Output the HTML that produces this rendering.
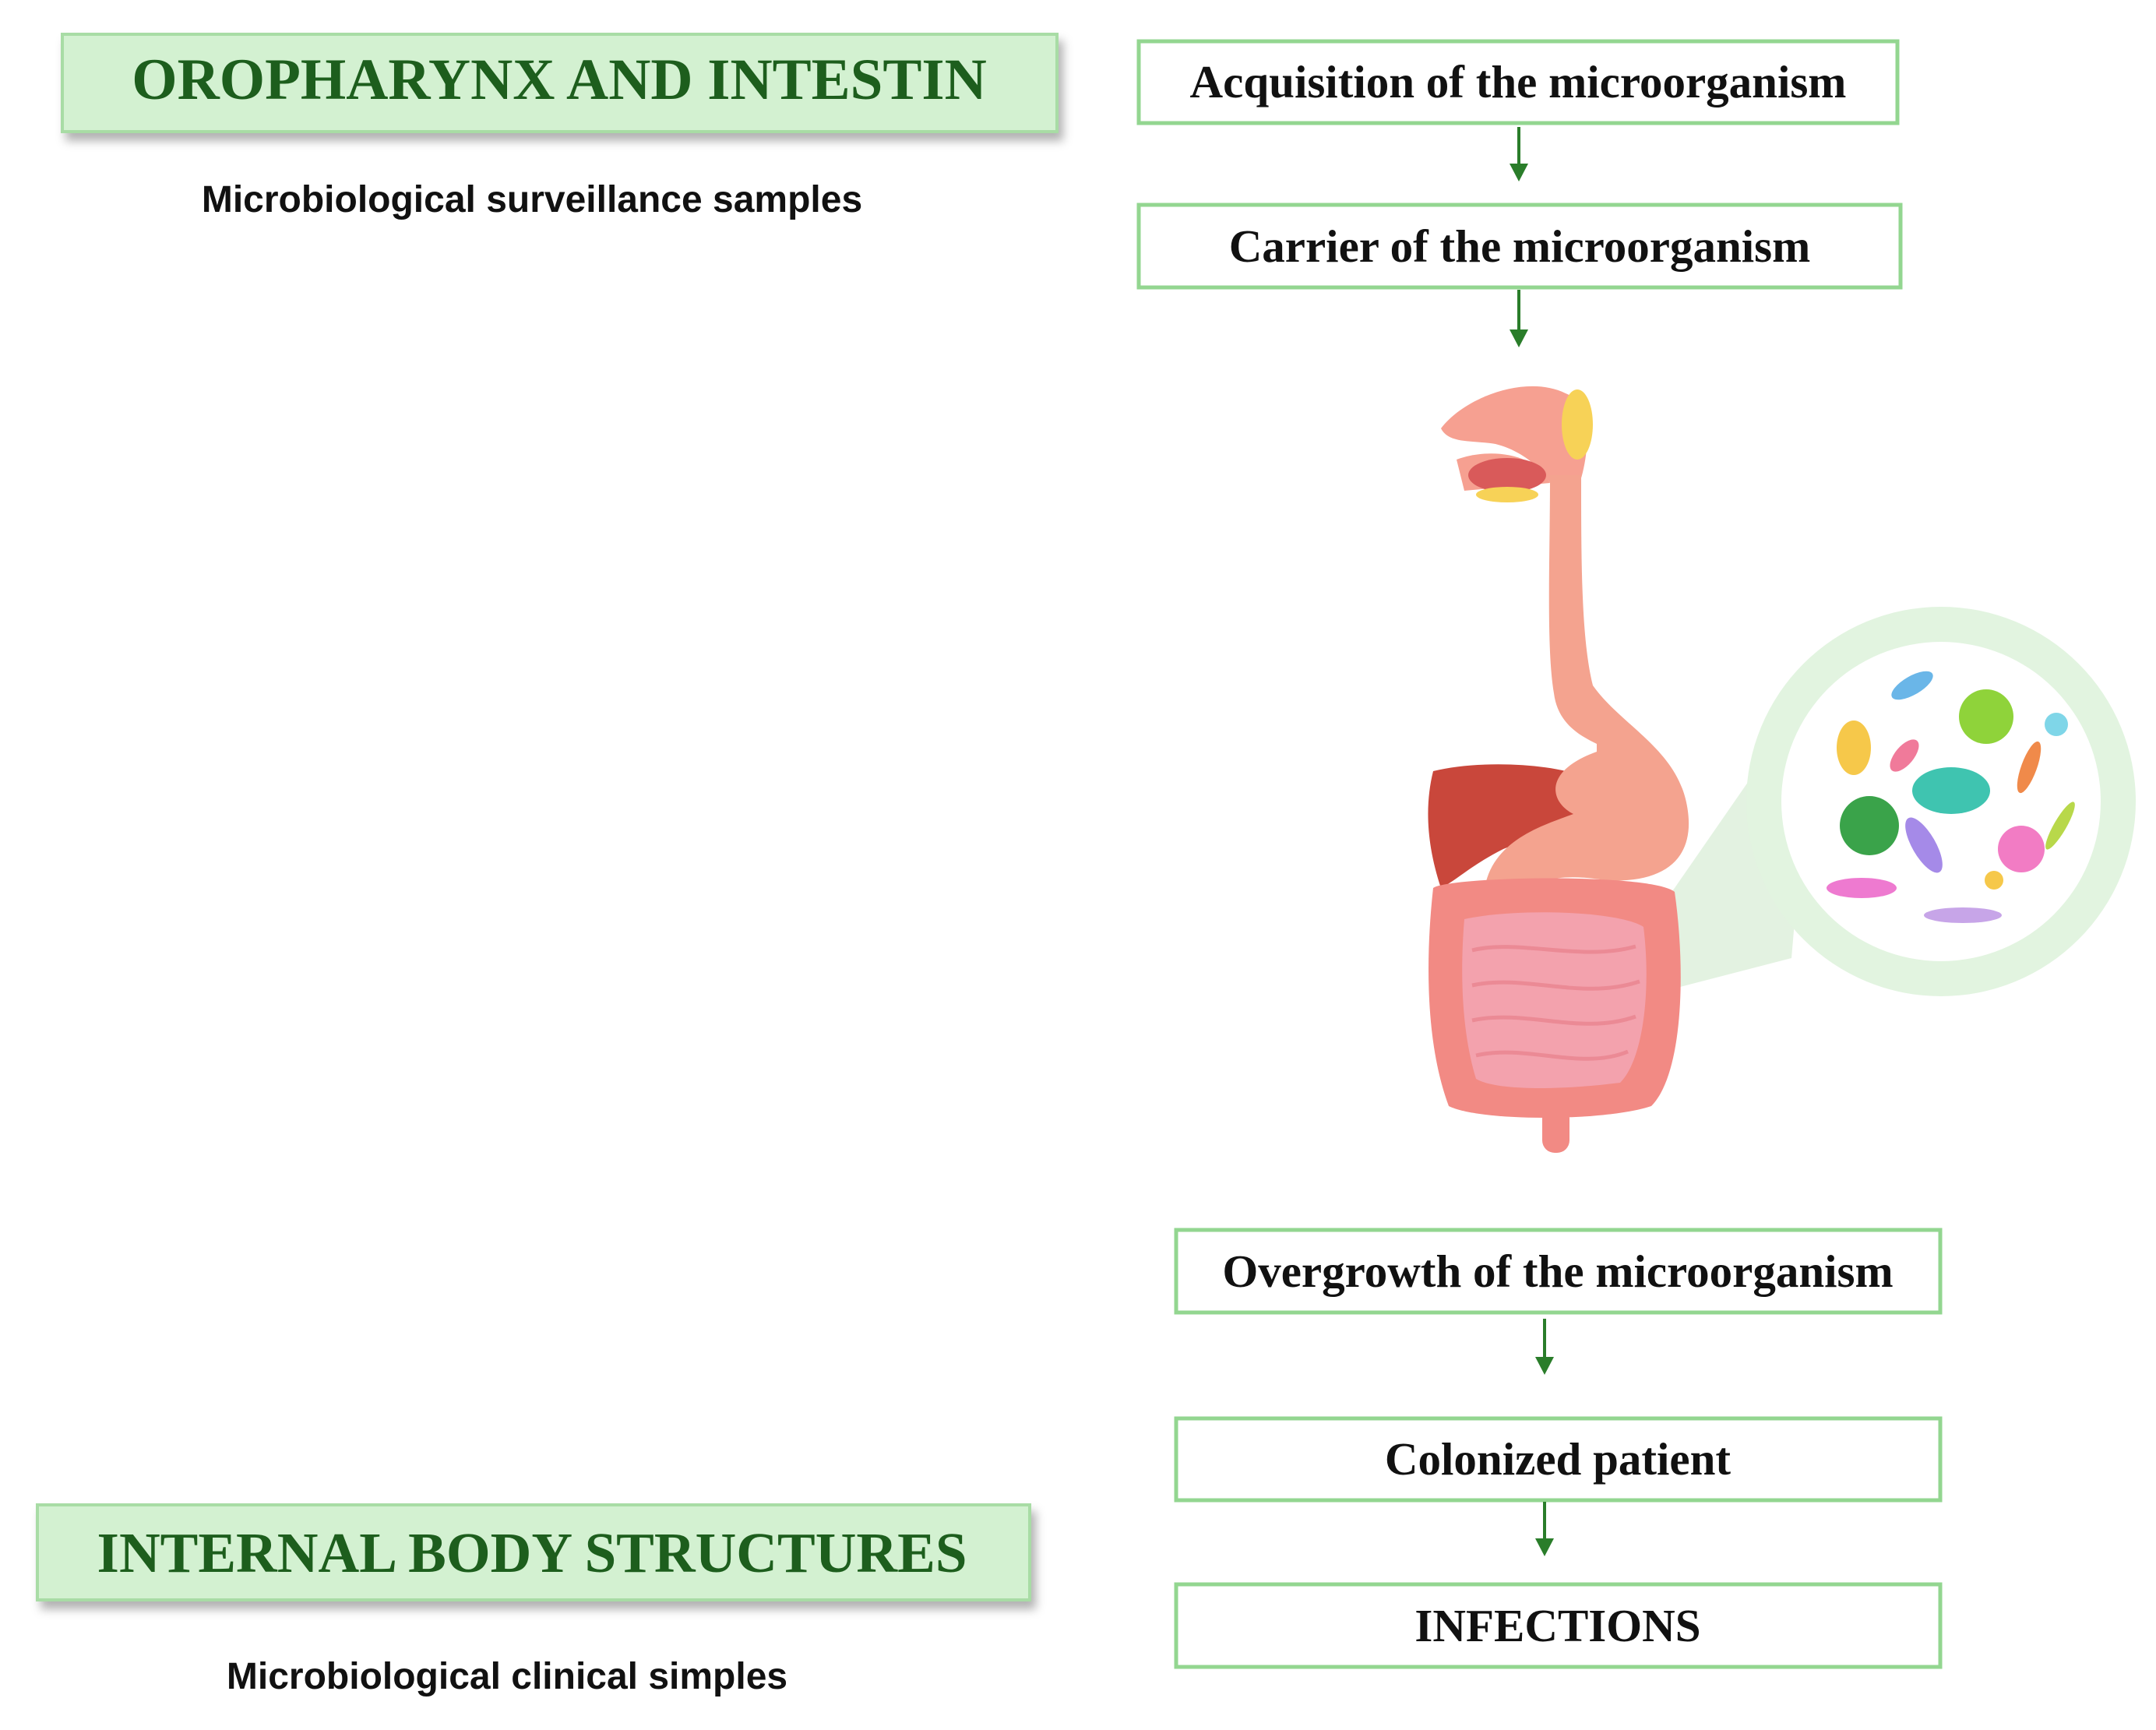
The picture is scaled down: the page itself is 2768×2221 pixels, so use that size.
<!DOCTYPE html>
<html><head><meta charset="utf-8"><style>
html,body{margin:0;padding:0;background:#fff;}
body{width:2768px;height:2216px;overflow:hidden;position:relative;}
.t{font-family:"Liberation Serif",serif;font-weight:bold;}
.s{font-family:"Liberation Sans",sans-serif;font-weight:bold;}
</style></head><body>
<svg width="2768" height="2216" viewBox="0 0 2768 2216" xmlns="http://www.w3.org/2000/svg">
<defs>
<filter id="sh" x="-5%" y="-20%" width="110%" height="150%"><feDropShadow dx="6" dy="10" stdDeviation="6" flood-color="#000" flood-opacity="0.3"/></filter>
</defs>
<rect x="80" y="44" width="1277" height="125" fill="#d3f1d1" stroke="#a8dca5" stroke-width="4" filter="url(#sh)"/>
<text x="718" y="127" class="t" font-size="75" fill="#1d5e1d" text-anchor="middle">OROPHARYNX AND INTESTIN</text>
<text x="683" y="272" class="s" font-size="48" fill="#111" text-anchor="middle">Microbiological surveillance samples</text>
<rect x="48" y="1932" width="1274" height="122" fill="#d3f1d1" stroke="#a8dca5" stroke-width="4" filter="url(#sh)"/>
<text x="683" y="2018" class="t" font-size="73" fill="#1d5e1d" text-anchor="middle">INTERNAL BODY STRUCTURES</text>
<text x="651" y="2168" class="s" font-size="48" fill="#111" text-anchor="middle">Microbiological clinical simples</text>
<g fill="#fff" stroke="#93d690" stroke-width="5">
<rect x="1462" y="53" width="974" height="105"/>
<rect x="1462" y="263" width="978" height="106"/>
<rect x="1510" y="1579" width="981" height="106"/>
<rect x="1510" y="1821" width="981" height="105"/>
<rect x="1510" y="2034" width="981" height="106"/>
</g>
<g class="t" font-size="59" fill="#111" text-anchor="middle">
<text x="1949" y="125">Acquisition of the microorganism</text>
<text x="1951" y="336">Carrier of the microorganism</text>
<text x="2000" y="1652">Overgrowth of the microorganism</text>
<text x="2000" y="1893">Colonized patient</text>
<text x="2000" y="2107">INFECTIONS</text>
</g>
<g stroke="#2a7d2a" stroke-width="4">
<line x1="1950" y1="163" x2="1950" y2="215"/>
<line x1="1950" y1="372" x2="1950" y2="428"/>
<line x1="1983" y1="1693" x2="1983" y2="1747"/>
<line x1="1983" y1="1928" x2="1983" y2="1980"/>
</g>
<g fill="#2a7d2a">
<polygon points="1938,210 1962,210 1950,233"/>
<polygon points="1938,423 1962,423 1950,446"/>
<polygon points="1971,1742 1995,1742 1983,1765"/>
<polygon points="1971,1975 1995,1975 1983,1998"/>
</g>
<path d="M2030,1300 L2150,1140 L2330,880 L2300,1230 Z" fill="#dcefd9" opacity="0.8"/>
<circle cx="2492" cy="1029" r="250" fill="#e2f4e0"/>
<circle cx="2492" cy="1029" r="205" fill="#fff"/>
<g>
<circle cx="2550" cy="920" r="35" fill="#8fd33a"/><circle cx="2400" cy="1060" r="38" fill="#3aa34a"/>
<ellipse cx="2505" cy="1015" rx="50" ry="30" fill="#3fc4b0"/><circle cx="2595" cy="1090" r="30" fill="#f27cc4"/>
<ellipse cx="2380" cy="960" rx="22" ry="35" fill="#f6c84a"/><ellipse cx="2445" cy="970" rx="12" ry="25" fill="#f07a9a" transform="rotate(40 2445 970)"/>
<ellipse cx="2455" cy="880" rx="30" ry="12" fill="#6ab6e8" transform="rotate(-30 2455 880)"/>
<ellipse cx="2605" cy="985" rx="10" ry="35" fill="#f08a4a" transform="rotate(20 2605 985)"/>
<ellipse cx="2390" cy="1140" rx="45" ry="13" fill="#ee7ad0"/><ellipse cx="2470" cy="1085" rx="15" ry="40" fill="#a58ae8" transform="rotate(-30 2470 1085)"/>
<ellipse cx="2520" cy="1175" rx="50" ry="10" fill="#c7a5e8"/><ellipse cx="2645" cy="1060" rx="8" ry="35" fill="#b8d84a" transform="rotate(30 2645 1060)"/>
<circle cx="2640" cy="930" r="15" fill="#7fd6e8"/><circle cx="2560" cy="1130" r="12" fill="#f6c84a"/>
</g>
<g>
<path d="M1850,550 C1880,510 1960,480 2010,505 C2050,520 2040,600 2020,640 L2000,640 C1990,610 1960,580 1920,570 C1890,565 1860,570 1850,550 Z" fill="#f6a091"/>
<ellipse cx="2025" cy="545" rx="20" ry="45" fill="#f7d257"/>
<path d="M1870,590 C1910,575 1970,580 1990,620 L1880,630 Z" fill="#f6a091"/>
<ellipse cx="1935" cy="610" rx="50" ry="22" fill="#d95a5a"/>
<ellipse cx="1935" cy="635" rx="40" ry="10" fill="#f7d257"/>
<path d="M1840,990 C1900,975 2000,980 2040,1000 C2060,1060 1980,1070 1930,1090 C1890,1110 1870,1130 1850,1140 C1830,1080 1830,1030 1840,990 Z" fill="#c9473b"/>
<path d="M1990,610 C1990,720 1985,830 1995,890 C2000,930 2030,945 2050,955 L2050,965 C1980,990 1990,1030 2020,1045 C1980,1060 1910,1080 1905,1150 L1950,1160 C1960,1130 2000,1120 2060,1130 C2140,1135 2180,1100 2165,1030 C2150,960 2080,930 2045,880 C2030,820 2030,720 2030,610 Z" fill="#f4a38f"/>
<path d="M1840,1140 C1860,1125 2120,1120 2150,1145 C2165,1250 2160,1380 2120,1420 C2060,1440 1900,1440 1860,1420 C1830,1340 1830,1230 1840,1140 Z" fill="#f28a84"/>
<path d="M1880,1180 C1950,1165 2080,1170 2110,1190 C2120,1270 2110,1360 2080,1390 C2000,1400 1920,1400 1895,1385 C1875,1320 1875,1240 1880,1180 Z" fill="#f3a2ad"/>
<g stroke="#e9808c" stroke-width="5" fill="none" opacity="0.7">
<path d="M1890,1220 C1950,1205 2030,1235 2100,1215"/><path d="M1890,1265 C1960,1250 2030,1285 2105,1260"/>
<path d="M1890,1310 C1960,1295 2030,1330 2100,1305"/><path d="M1895,1355 C1960,1340 2030,1375 2090,1350"/>
</g>
<rect x="1980" y="1420" width="35" height="60" rx="16" fill="#f28a84"/>
</g>
</svg>
</body></html>
